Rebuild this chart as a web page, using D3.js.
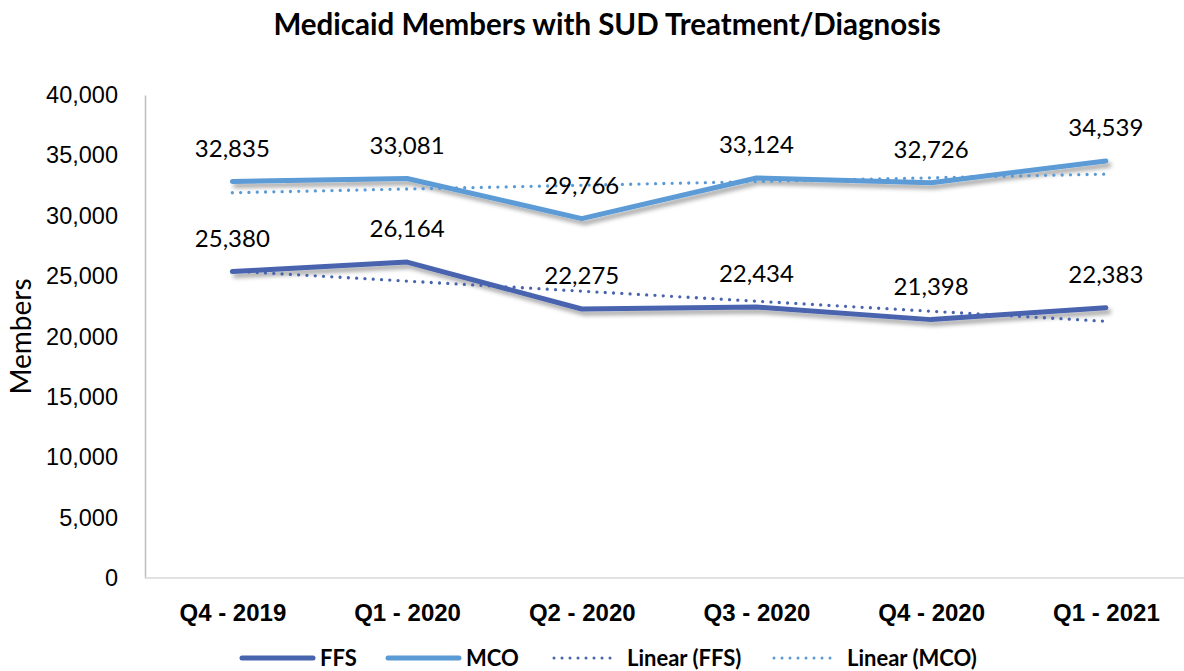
<!DOCTYPE html>
<html>
<head>
<meta charset="utf-8">
<script src="https://cdn.jsdelivr.net/npm/d3@7"></script>
<style>
  body { margin: 0; background: #fff; }
  svg { display: block; font-family: Lato, "Open Sans", sans-serif; }
</style>
</head>
<body>
<svg id="chart" width="1184" height="671"></svg>
<script>
// data
var quarters = ["Q4 - 2019", "Q1 - 2020", "Q2 - 2020", "Q3 - 2020", "Q4 - 2020", "Q1 - 2021"];
var ffsValues = [25380, 26164, 22275, 22434, 21398, 22383];
var mcoValues = [32835, 33081, 29766, 33124, 32726, 34539];
var yTicks = [0, 5000, 10000, 15000, 20000, 25000, 30000, 35000, 40000];

var width = 1184, height = 671;
var margin = { top: 95, right: 0, bottom: 93, left: 145 };
var band = 174.7;

var svg = d3.select("#chart");

var defs = svg.append("defs");
var shadow = defs.append("filter")
    .attr("id", "shadow")
    .attr("x", "-10%").attr("y", "-50%")
    .attr("width", "120%").attr("height", "200%");
shadow.append("feDropShadow")
    .attr("dx", 3).attr("dy", 4)
    .attr("stdDeviation", 2.2)
    .attr("flood-color", "#000")
    .attr("flood-opacity", 0.35);

var x = d3.scalePoint()
    .domain(quarters)
    .range([margin.left + band / 2, margin.left + band * 5.5]);

var y = d3.scaleLinear()
    .domain([0, 40000])
    .range([height - margin.bottom, margin.top]);

// excel style linear trendline, x = 1..n
function trend(values) {
    var n = values.length;
    var xs = d3.range(1, n + 1);
    var mx = d3.mean(xs), my = d3.mean(values);
    var num = d3.sum(xs, function(v, i) { return (v - mx) * (values[i] - my); });
    var den = d3.sum(xs, function(v) { return (v - mx) * (v - mx); });
    var slope = num / den;
    return xs.map(function(v) { return my + slope * (v - mx); });
}

var series = [
    { name: "FFS", values: ffsValues, color: "#4864AE" },
    { name: "MCO", values: mcoValues, color: "#5B9BD5" }
];

// title
svg.append("text")
    .attr("x", 607)
    .attr("y", 35)
    .attr("text-anchor", "middle")
    .attr("font-size", 29.5)
    .attr("font-weight", "bold")
    .attr("fill", "#000")
    .text("Medicaid Members with SUD Treatment/Diagnosis");

// axes
var yAxis = svg.append("g")
    .attr("transform", "translate(" + margin.left + ",0)")
    .call(d3.axisLeft(y).tickValues(yTicks).tickFormat(d3.format(",")).tickSize(0).tickPadding(27));
yAxis.select(".domain").attr("stroke", "#BFBFBF").attr("stroke-width", 1.5);
yAxis.selectAll("text").attr("font-size", 23.5).attr("fill", "#000");

var xAxis = svg.append("g")
    .attr("transform", "translate(0," + y(0) + ")")
    .call(d3.axisBottom(x).tickSize(0).tickPadding(26));
xAxis.select(".domain")
    .attr("d", "M" + margin.left + ",0H" + width)
    .attr("stroke", "#D9D9D9").attr("stroke-width", 1.5);
xAxis.selectAll("text")
    .attr("font-size", 24)
    .attr("font-weight", "bold")
    .attr("fill", "#000");

svg.append("text")
    .attr("transform", "translate(31," + ((y(0) + y(40000)) / 2) + ") rotate(-90)")
    .attr("text-anchor", "middle")
    .attr("font-size", 28)
    .attr("fill", "#000")
    .text("Members");

var line = d3.line()
    .x(function(d, i) { return x(quarters[i]); })
    .y(function(d) { return y(d); });

// solid series lines
svg.append("g").selectAll("path")
    .data(series)
    .enter().append("path")
    .attr("d", function(d) { return line(d.values); })
    .attr("fill", "none")
    .attr("stroke", function(d) { return d.color; })
    .attr("stroke-width", 5)
    .attr("stroke-linecap", "round")
    .attr("stroke-linejoin", "round")
    .attr("filter", "url(#shadow)");

// trendlines
svg.append("g").selectAll("path")
    .data(series)
    .enter().append("path")
    .attr("d", function(d) { return line(trend(d.values)); })
    .attr("fill", "none")
    .attr("stroke", function(d) { return d.color; })
    .attr("stroke-width", 3.3)
    .attr("stroke-linecap", "round")
    .attr("stroke-dasharray", "0 8.3");

// data labels
series.forEach(function(s) {
    svg.append("g").selectAll("text")
        .data(s.values)
        .enter().append("text")
        .attr("x", function(d, i) { return x(quarters[i]); })
        .attr("y", function(d) { return y(d) - 25; })
        .attr("text-anchor", "middle")
        .attr("font-size", 24)
        .attr("fill", "#000")
        .text(function(d) { return d3.format(",")(d); });
});

// legend
var legendItems = [
    { label: "FFS", color: "#4864AE", dotted: false, x: 242 },
    { label: "MCO", color: "#5B9BD5", dotted: false, x: 388 },
    { label: "Linear (FFS)", color: "#4864AE", dotted: true, x: 554 },
    { label: "Linear (MCO)", color: "#5B9BD5", dotted: true, x: 774 }
];
var legend = svg.append("g").attr("transform", "translate(0,658)");
var li = legend.selectAll("g")
    .data(legendItems)
    .enter().append("g")
    .attr("transform", function(d) { return "translate(" + d.x + ",0)"; });
li.append("line")
    .attr("x1", 0).attr("x2", function(d) { return d.dotted ? 64 : 71; })
    .attr("stroke", function(d) { return d.color; })
    .attr("stroke-width", function(d) { return d.dotted ? 3 : 5; })
    .attr("stroke-linecap", "round")
    .attr("stroke-dasharray", function(d) { return d.dotted ? "0 8" : null; });
li.append("text")
    .attr("x", function(d) { return d.dotted ? 73 : 78; })
    .attr("dy", "0.35em")
    .attr("font-size", 22)
    .attr("font-weight", "bold")
    .attr("fill", "#000")
    .text(function(d) { return d.label; });
</script>
</body>
</html>
